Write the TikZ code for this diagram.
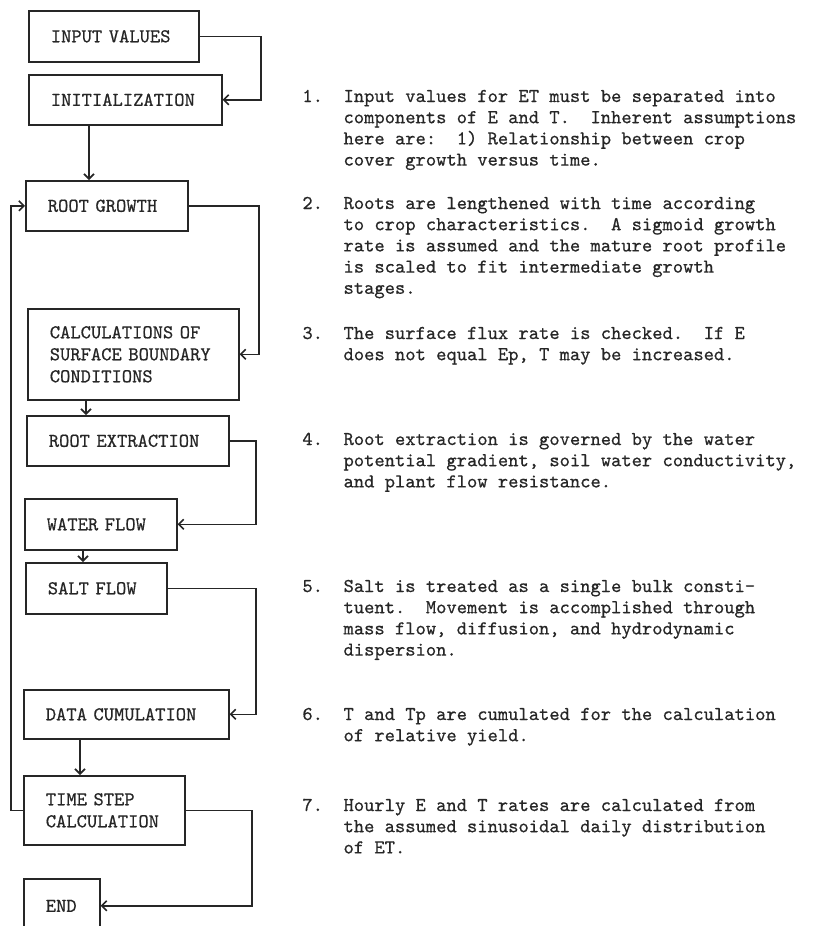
\documentclass[tikz,border=0pt]{standalone}
\usepackage{fontspec}
\usetikzlibrary{arrows.meta}

\newfontfamily\typewriter{lmmono10-regular.otf}[FakeBold=0.6]
\newcommand{\boxfont}{\fontsize{9.8}{11}\selectfont\typewriter\frenchspacing}
\newcommand{\notefont}{\fontsize{9.8}{10.6}\selectfont\typewriter\frenchspacing}
\newcommand{\noteno}[1]{\makebox[2.1em][l]{#1}}
\newcommand{\notecont}{\hspace*{2.1em}}

\tikzset{
  box/.style={draw=black!85, line width=0.8pt, anchor=north west, inner xsep=11pt, inner ysep=0pt, align=left, font=\boxfont, text=black!85},
  note/.style={anchor=base west, inner sep=0pt, align=left, font=\notefont, text=black!85},
  flow/.style={draw=black!85, line width=0.8pt, -{Straight Barb[length=2.5pt,width=5pt]}}
}

\begin{document}
\begin{tikzpicture}[x=0.5pt, y=-0.5pt]
\def\xn{302}

\useasboundingbox (0,0) rectangle (813,926);
\clip (0,0) rectangle (813,926);

\node[box, text width=63pt, minimum height=25.5pt] (input) at (28,10) {INPUT VALUES};
\node[box, text width=74.5pt, minimum height=25pt] (init) at (28,74) {INITIALIZATION};
\node[box, text width=59pt, minimum height=25pt] (grow) at (25,180) {ROOT GROWTH};
\node[box, text width=83.5pt, minimum height=45.5pt] (calc) at (27,308) {CALCULATIONS OF\\SURFACE BOUNDARY\\CONDITIONS};
\node[box, text width=79pt, minimum height=25pt] (extract) at (26,415) {ROOT EXTRACTION};
\node[box, text width=54pt, minimum height=25.5pt] (water) at (24,498) {WATER FLOW};
\node[box, text width=48.5pt, minimum height=25.5pt] (salt) at (25,562) {SALT FLOW};
\node[box, text width=80.5pt, minimum height=24.5pt] (cumul) at (23,689) {DATA CUMULATION};
\node[box, text width=58.5pt, minimum height=34.5pt] (tstep) at (23,775) {TIME STEP\\CALCULATION};
\node[box, text width=16pt, minimum height=27pt] (end) at (23,878) {END};

\coordinate (ra) at (261,0);
\coordinate (rb) at (259,0);
\coordinate (rc) at (256,0);
\coordinate (rd) at (256,0);
\coordinate (re) at (252,0);
\coordinate (lf) at (11,0);
\coordinate (sa) at (89,0);
\coordinate (sb) at (86,0);
\coordinate (sc) at (83,0);
\coordinate (sd) at (80,0);

\draw[flow] (input.east) -- (input.east -| ra) |- (init.east);
\draw[flow] (init.south -| sa) -- (grow.north -| sa);
\draw[flow] (grow.east) -- (grow.east -| rb) |- (calc.east);
\draw[flow] (calc.south -| sb) -- (extract.north -| sb);
\draw[flow] (extract.east) -- (extract.east -| rc) |- (water.east);
\draw[flow] (water.south -| sc) -- (salt.north -| sc);
\draw[flow] (salt.east) -- (salt.east -| rd) |- (cumul.east);
\draw[flow] (cumul.south -| sd) -- (tstep.north -| sd);
\draw[flow] (tstep.east) -- (tstep.east -| re) |- (end.east);
\draw[flow] (tstep.west) -- (tstep.west -| lf) |- (grow.west);

% base of a note = baseline of its last line
\node[note] (n1) at (\xn,165.6) {\noteno{1.}Input values for ET must be separated into\\
\notecont components of E and T.~~Inherent assumptions\\
\notecont here are:~~1) Relationship between crop\\
\notecont cover growth versus time.};
\node[note] (n2) at (\xn,293.8) {\noteno{2.}Roots are lengthened with time according\\
\notecont to crop characteristics.~~A sigmoid growth\\
\notecont rate is assumed and the mature root profile\\
\notecont is scaled to fit intermediate growth\\
\notecont stages.};
\node[note] (n3) at (\xn,360.2) {\noteno{3.}The surface flux rate is checked.~~If E\\
\notecont does not equal Ep, T may be increased.};
\node[note] (n4) at (\xn,487.4) {\noteno{4.}Root extraction is governed by the water\\
\notecont potential gradient, soil water conductivity,\\
\notecont and plant flow resistance.};
\node[note] (n5) at (\xn,655.6) {\noteno{5.}Salt is treated as a single bulk consti-\\
\notecont tuent.~~Movement is accomplished through\\
\notecont mass flow, diffusion, and hydrodynamic\\
\notecont dispersion.};
\node[note] (n6) at (\xn,741.2) {\noteno{6.}T and Tp are cumulated for the calculation\\
\notecont of relative yield.};
\node[note] (n7) at (\xn,853.4) {\noteno{7.}Hourly E and T rates are calculated from\\
\notecont the assumed sinusoidal daily distribution\\
\notecont of ET.};

\end{tikzpicture}
\end{document}
